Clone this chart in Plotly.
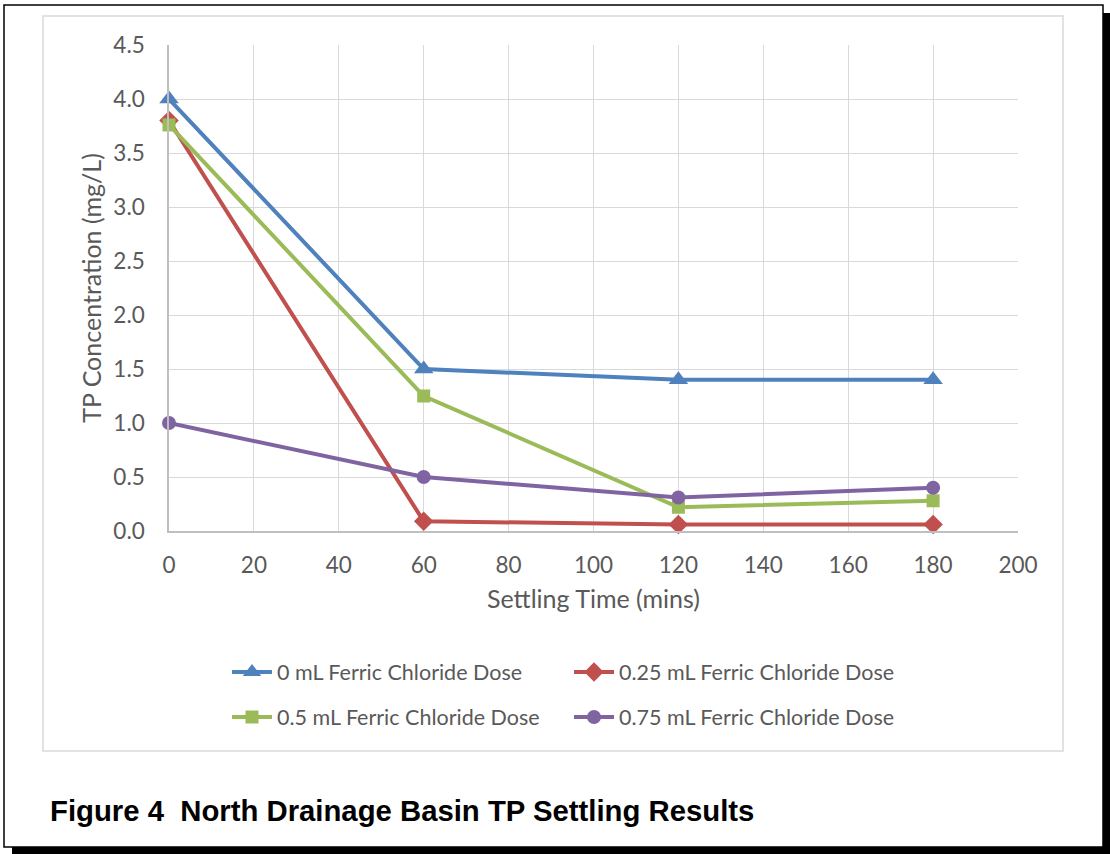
import plotly.graph_objects as go

settling_time = [0, 60, 120, 180]
dose_0 = [4.0, 1.5, 1.4, 1.4]
dose_025 = [3.8, 0.09, 0.06, 0.06]
dose_05 = [3.76, 1.25, 0.22, 0.28]
dose_075 = [1.0, 0.5, 0.31, 0.40]

names = ["0 mL Ferric Chloride Dose", "0.25 mL Ferric Chloride Dose",
         "0.5 mL Ferric Chloride Dose", "0.75 mL Ferric Chloride Dose"]
series = [dose_0, dose_025, dose_05, dose_075]
colors = ["#4F81BD", "#C0504D", "#9BBB59", "#8064A2"]
symbols = ["triangle-up", "diamond", "square", "circle"]
sizes = [17, 15, 13, 14]
legends = ["legend", "legend", "legend2", "legend2"]

W, H = 1110, 854
L, R, T, B = 169, 1018, 45, 531
PW, PH = R - L, B - T

def px(x):
    return (x - L) / PW

def py(y):
    return (B - y) / PH

fig = go.Figure()
for n, s, c, sym, sz, lg in zip(names, series, colors, symbols, sizes, legends):
    fig.add_trace(go.Scatter(
        x=settling_time, y=s, name=n, mode="lines+markers",
        line=dict(color=c, width=4),
        marker=dict(symbol=sym, size=sz, color=c),
        legend=lg, cliponaxis=False,
    ))

font_main = "Lato, Calibri, Carlito, sans-serif"
txt = "#595959"

shapes = [
    dict(type="rect", xref="paper", yref="paper", x0=px(12), x1=px(1110), y0=py(854), y1=py(13),
         fillcolor="black", line=dict(width=0), layer="below"),
    dict(type="rect", xref="paper", yref="paper", x0=px(4), x1=px(1103), y0=py(847), y1=py(5),
         fillcolor="white", line=dict(color="black", width=1.5), layer="below"),
    dict(type="rect", xref="paper", yref="paper", x0=px(43), x1=px(1063), y0=py(751), y1=py(16),
         fillcolor="white", line=dict(color="#D9D9D9", width=1.5), layer="below"),
]

legend_common = dict(
    orientation="h", font=dict(family=font_main, size=21.5, color=txt),
    bgcolor="rgba(0,0,0,0)", entrywidth=287, entrywidthmode="pixels",
    xanchor="left", yanchor="middle", itemwidth=40,
)

fig.update_layout(
    width=W, height=H,
    margin=dict(l=L, r=W - R, t=T, b=H - B),
    paper_bgcolor="white", plot_bgcolor="white",
    shapes=shapes,
    xaxis=dict(range=[0, 200], dtick=20, tick0=0, showgrid=True, gridcolor="#D9D9D9", gridwidth=1,
               showline=True, linecolor="#BFBFBF", linewidth=1.5, zeroline=False,
               ticks="", ticklabelstandoff=13, tickfont=dict(family=font_main, size=22.5, color=txt),
               title=dict(text="Settling Time (mins)", font=dict(family=font_main, size=25, color=txt), standoff=14)),
    yaxis=dict(range=[0, 4.5], dtick=0.5, tick0=0, tickformat=".1f", showgrid=True, gridcolor="#D9D9D9", gridwidth=1,
               showline=True, linecolor="#BFBFBF", linewidth=1.5, zeroline=False,
               ticks="", ticklabelstandoff=18, tickfont=dict(family=font_main, size=22.5, color=txt),
               title=dict(text="TP Concentration (mg/L)", font=dict(family=font_main, size=25, color=txt), standoff=5)),
    legend=dict(x=px(227), y=py(672), **legend_common),
    legend2=dict(x=px(227), y=py(717), **legend_common),
    annotations=[dict(
        text="<b>Figure 4\u00a0 North Drainage Basin TP Settling Results</b>",
        xref="paper", yref="paper", x=px(48), y=py(810), xanchor="left", yanchor="middle",
        showarrow=False, font=dict(family="Liberation Sans, Arial, sans-serif", size=29.3, color="black"),
    )],
)

fig.write_html("out.html")
